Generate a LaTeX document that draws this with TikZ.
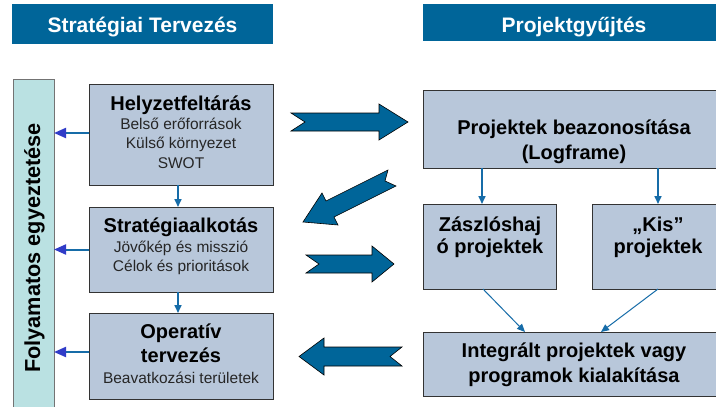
\documentclass[tikz,border=0pt]{standalone}
\usepackage{fontspec}
\setmainfont{Liberation Sans}
\usetikzlibrary{arrows.meta}
\definecolor{hdr}{RGB}{0,101,153}
\definecolor{boxfill}{RGB}{184,199,218}
\definecolor{barfill}{RGB}{186,225,226}
\definecolor{lnk}{RGB}{22,108,168}
\definecolor{lnkhead}{RGB}{48,60,200}
\begin{document}
\begin{tikzpicture}[x=1pt,y=-1pt,
  box/.style={draw=black!80, line width=0.8pt, fill=boxfill, inner sep=0pt, outer sep=0pt},
  hdrbox/.style={fill=hdr, draw=none, inner sep=0pt, outer sep=0pt},
  barbox/.style={draw=black!55, line width=0.8pt, fill=barfill, inner sep=0pt, outer sep=0pt},
  txt/.style={anchor=base, inner sep=0pt},
  hdrtxt/.style={txt, text=white, font=\bfseries\fontsize{21}{25}\selectfont},
  ttl/.style={txt, font=\bfseries\fontsize{20}{24}\selectfont},
  bdy/.style={txt, text=black!85, font=\fontsize{15.5}{19}\selectfont},
  bigarrow/.style={fill=hdr, draw=black, line width=0.6pt, line join=miter},
  lft/.style={draw=lnk, line width=2pt, -{Triangle[length=12pt,width=10pt,color=lnkhead]}},
  dwn/.style={draw=lnk, line width=1.6pt, -{Triangle[length=8pt,width=7pt]}},
  diag/.style={draw=lnk, line width=1pt, -{Triangle[length=8pt,width=7pt]}}
]
\clip (0,0) rectangle (716,407);
\fill[white] (0,0) rectangle (716,407);

% headers
\node[hdrbox, minimum width=261pt, minimum height=40pt] (head1) at (142.5,24) {};
\node[hdrtxt] (head1t) at (142.5,32) {Stratégiai Tervezés};
\node[hdrbox, minimum width=302pt, minimum height=37pt] (head2) at (574,22.5) {};
\node[hdrtxt] (head2t) at (574,32) {Projektgyűjtés};

% left bar
\node[barbox, minimum width=41pt, minimum height=341pt] (bar) at (33.5,249.5) {};
\node[anchor=base, inner sep=0pt, rotate=90, font=\bfseries\fontsize{21.7}{25}\selectfont] (bart) at (40,248) {Folyamatos egyeztetése};

% left column boxes
\node[box, minimum width=184pt, minimum height=101pt] (helyz) at (181,134.5) {};
\node[ttl] (helyz1) at (181,110) {Helyzetfeltárás};
\node[bdy] (helyz2) at (181,129) {Belső erőforrások};
\node[bdy] (helyz3) at (181,148) {Külső környezet};
\node[bdy] (helyz4) at (181,168) {SWOT};

\node[box, minimum width=184pt, minimum height=85pt] (strat) at (181,249.5) {};
\node[ttl] (strat1) at (181,232) {Stratégiaalkotás};
\node[bdy] (strat2) at (181,252) {Jövőkép és misszió};
\node[bdy] (strat3) at (181,271) {Célok és prioritások};

\node[box, minimum width=184pt, minimum height=86pt] (oper) at (181,356) {};
\node[ttl] (oper1) at (181,338) {Operatív};
\node[ttl] (oper2) at (181,362) {tervezés};
\node[bdy] (oper3) at (181,383) {Beavatkozási területek};

% right column boxes
\node[box, minimum width=302pt, minimum height=78pt] (proj) at (574,129) {};
\node[ttl] (proj1) at (574,134) {Projektek beazonosítása};
\node[ttl] (proj2) at (574,159) {(Logframe)};

\node[box, minimum width=133pt, minimum height=85pt] (zaszlo) at (489.5,246.5) {};
\node[ttl] (zaszlo1) at (490,231) {Zászlóshaj};
\node[ttl] (zaszlo2) at (490,253) {ó projektek};

\node[box, minimum width=132pt, minimum height=85pt] (kis) at (658,246.5) {};
\node[ttl] (kis1) at (658,231) {„Kis”};
\node[ttl] (kis2) at (658,253) {projektek};

\node[box, minimum width=302pt, minimum height=64pt] (integr) at (574,364) {};
\node[ttl] (integr1) at (574,357) {Integrált projektek vagy};
\node[ttl] (integr2) at (574,382) {programok kialakítása};

% small connectors
\draw[lft] ([yshift=1.5pt]helyz.west) -- ([yshift=1.5pt]helyz.west -| bar.east);
\draw[lft] (strat.west) -- (strat.west -| bar.east);
\draw[lft] ([yshift=4pt]oper.west) -- ([yshift=4pt]oper.west -| bar.east);
\draw[dwn] ([xshift=-3pt]helyz.south) -- ([xshift=-3pt]strat.north);
\draw[dwn] ([xshift=-3pt]strat.south) -- ([xshift=-3pt]oper.north);
\coordinate (pz) at (482,168);
\coordinate (pk) at (658,168);
\draw[dwn] (pz) -- (pz |- zaszlo.north);
\draw[dwn] (pk) -- (pk |- kis.north);
\coordinate (zb) at (483,289);
\coordinate (kb) at (658,289);
\coordinate (iz) at (525,332);
\coordinate (ik) at (601,332);
\draw[diag] (zb) -- (iz);
\draw[diag] (kb) -- (ik);

% big block arrows
\draw[bigarrow] (291,113) -- (379,113) -- (379,104) -- (408,122) -- (379,140) -- (379,131) -- (291,131) -- (305,122) -- cycle;
\draw[bigarrow] (388,170) -- (326,201) -- (322,193) -- (303,222) -- (338,225) -- (334,217) -- (396,186) -- (385,181) -- cycle;
\draw[bigarrow] (306,255) -- (372,255) -- (372,246) -- (394,264) -- (372,282) -- (372,273) -- (306,273) -- (319,264) -- cycle;
\draw[bigarrow] (402,347) -- (324,347) -- (324,338) -- (299,356.5) -- (324,375) -- (324,366) -- (402,366) -- (390,356.5) -- cycle;
\end{tikzpicture}
\end{document}
